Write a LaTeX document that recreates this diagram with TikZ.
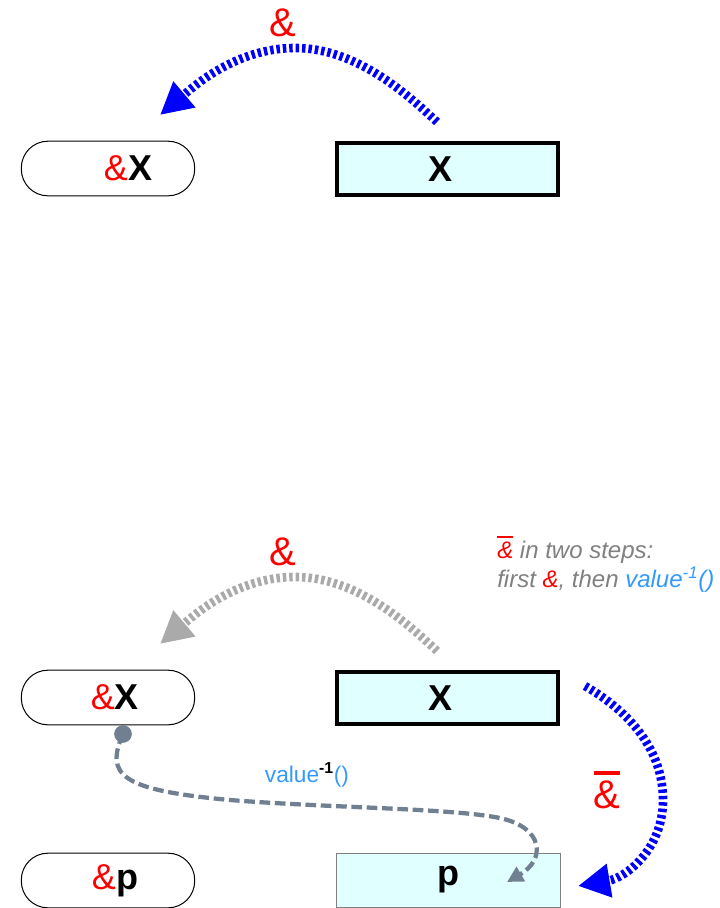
\documentclass[tikz,border=0pt]{standalone}
\usepackage{fontspec}
\setmainfont{Liberation Sans}
\setsansfont{Liberation Sans}
\usetikzlibrary{positioning, arrows.meta}

\definecolor{boxcyan}{RGB}{224,255,255}
\definecolor{arcblue}{RGB}{0,0,255}
\definecolor{arcgray}{RGB}{170,170,170}
\definecolor{linkgray}{RGB}{112,128,144}
\definecolor{valblue}{RGB}{51,153,255}
\definecolor{notegray}{RGB}{128,128,128}

\newcommand{\amp}{\textcolor{red}{\&}}
\newcommand{\ampbar}{\textcolor{red}{\vbox{\hrule height .08em\kern .15em\hbox{\&}}}}

\begin{document}
\begin{tikzpicture}[
  x=0.75pt, y=-0.75pt,
  pill/.style={draw, rounded corners=20pt, minimum width=130pt, minimum height=41pt,
               line width=0.75pt, inner sep=0pt, font=\fontsize{27}{30}\selectfont},
  valbox/.style={draw, fill=boxcyan, minimum width=166pt, minimum height=39pt,
                 line width=3pt, inner sep=0pt, font=\fontsize{27}{30}\selectfont\bfseries},
  ptrbox/.style={valbox, draw=gray, line width=0.75pt, minimum width=168pt, minimum height=40.5pt},
  amparc/.style={draw=arcblue, line width=6.5pt, dash pattern=on 2.6pt off 2.2pt,
                 -{Triangle[length=24pt, width=24pt]}},
  oldarc/.style={amparc, draw=arcgray},
  link/.style={draw=linkgray, line width=3.2pt, dash pattern=on 8pt off 3.5pt,
               -{Triangle[length=12pt, width=12pt]}},
  dot/.style={circle, fill=linkgray, minimum size=13pt, inner sep=0pt},
  amplbl/.style={text=red, font=\fontsize{30}{32}\selectfont, inner sep=0pt},
  vallbl/.style={text=valblue, font=\fontsize{17}{20}\selectfont, inner sep=0pt},
  note/.style={text=notegray, font=\fontsize{18}{21.5}\selectfont\itshape, align=left, inner sep=0pt},
]
\useasboundingbox (0,0) rectangle (719,908);

% Top: address of X
\node[pill] (m1) at (108,168.5) {\hspace*{30pt}\amp\textbf{X}};
\node[valbox] (m2) at (447.5,169) {\hspace*{-11pt}X};

\coordinate (a1) at (437,122);
\coordinate (a2) at (160,115);
\draw[amparc] (a1) .. controls (405,92) and (355,48) .. (295,48)
  .. controls (235,48) and (192,88) .. (a2);
\node[amplbl] (l1) at (283,23) {\&};

% Bottom: the way back
\node[pill] (m3) at (108,697.5) {\hspace*{10.5pt}\amp\textbf{X}};
\node[valbox] (m4) at (447.5,698) {\hspace*{-11pt}X};
\node[pill] (m5) at (108,880.5) {\hspace*{10.5pt}\amp\textbf{p}};
\node[ptrbox] (m6) at (448,880) {p};

\coordinate (b1) at (437,651);
\coordinate (b2) at (160,644);
\draw[oldarc] (b1) .. controls (405,621) and (355,577) .. (295,577)
  .. controls (235,577) and (192,617) .. (b2);
\node[amplbl] (l2) at (283,552) {\&};

\coordinate (c1) at (585,686);
\coordinate (c2) at (578,886);
\draw[amparc] (c1) .. controls (630,712) and (663,750) .. (663,800)
  .. controls (663,850) and (625,878) .. (c2);
\node[amplbl] (l3) at (607,790) {\ampbar};

% value^-1 link
\node[dot] (d1) at (123,734) {};
\coordinate (p1) at (507,882);
\draw[link] (d1.center) .. controls (105,775) and (120,790) .. (230,800)
  .. controls (330,808) and (450,808) .. (500,818)
  .. controls (545,828) and (545,860) .. (p1);
\node[dot] at (d1) {};
\node[vallbl] (l4) at (307,775) {value\textsuperscript{\textcolor{black}{\bfseries -1}}()};

% Annotation
\node[note, anchor=north west] (n1) at (497,536)
  {\ampbar{} in two steps:\\first \amp, then \textcolor{valblue}{value\textsuperscript{-1}()}};

\end{tikzpicture}
\end{document}
